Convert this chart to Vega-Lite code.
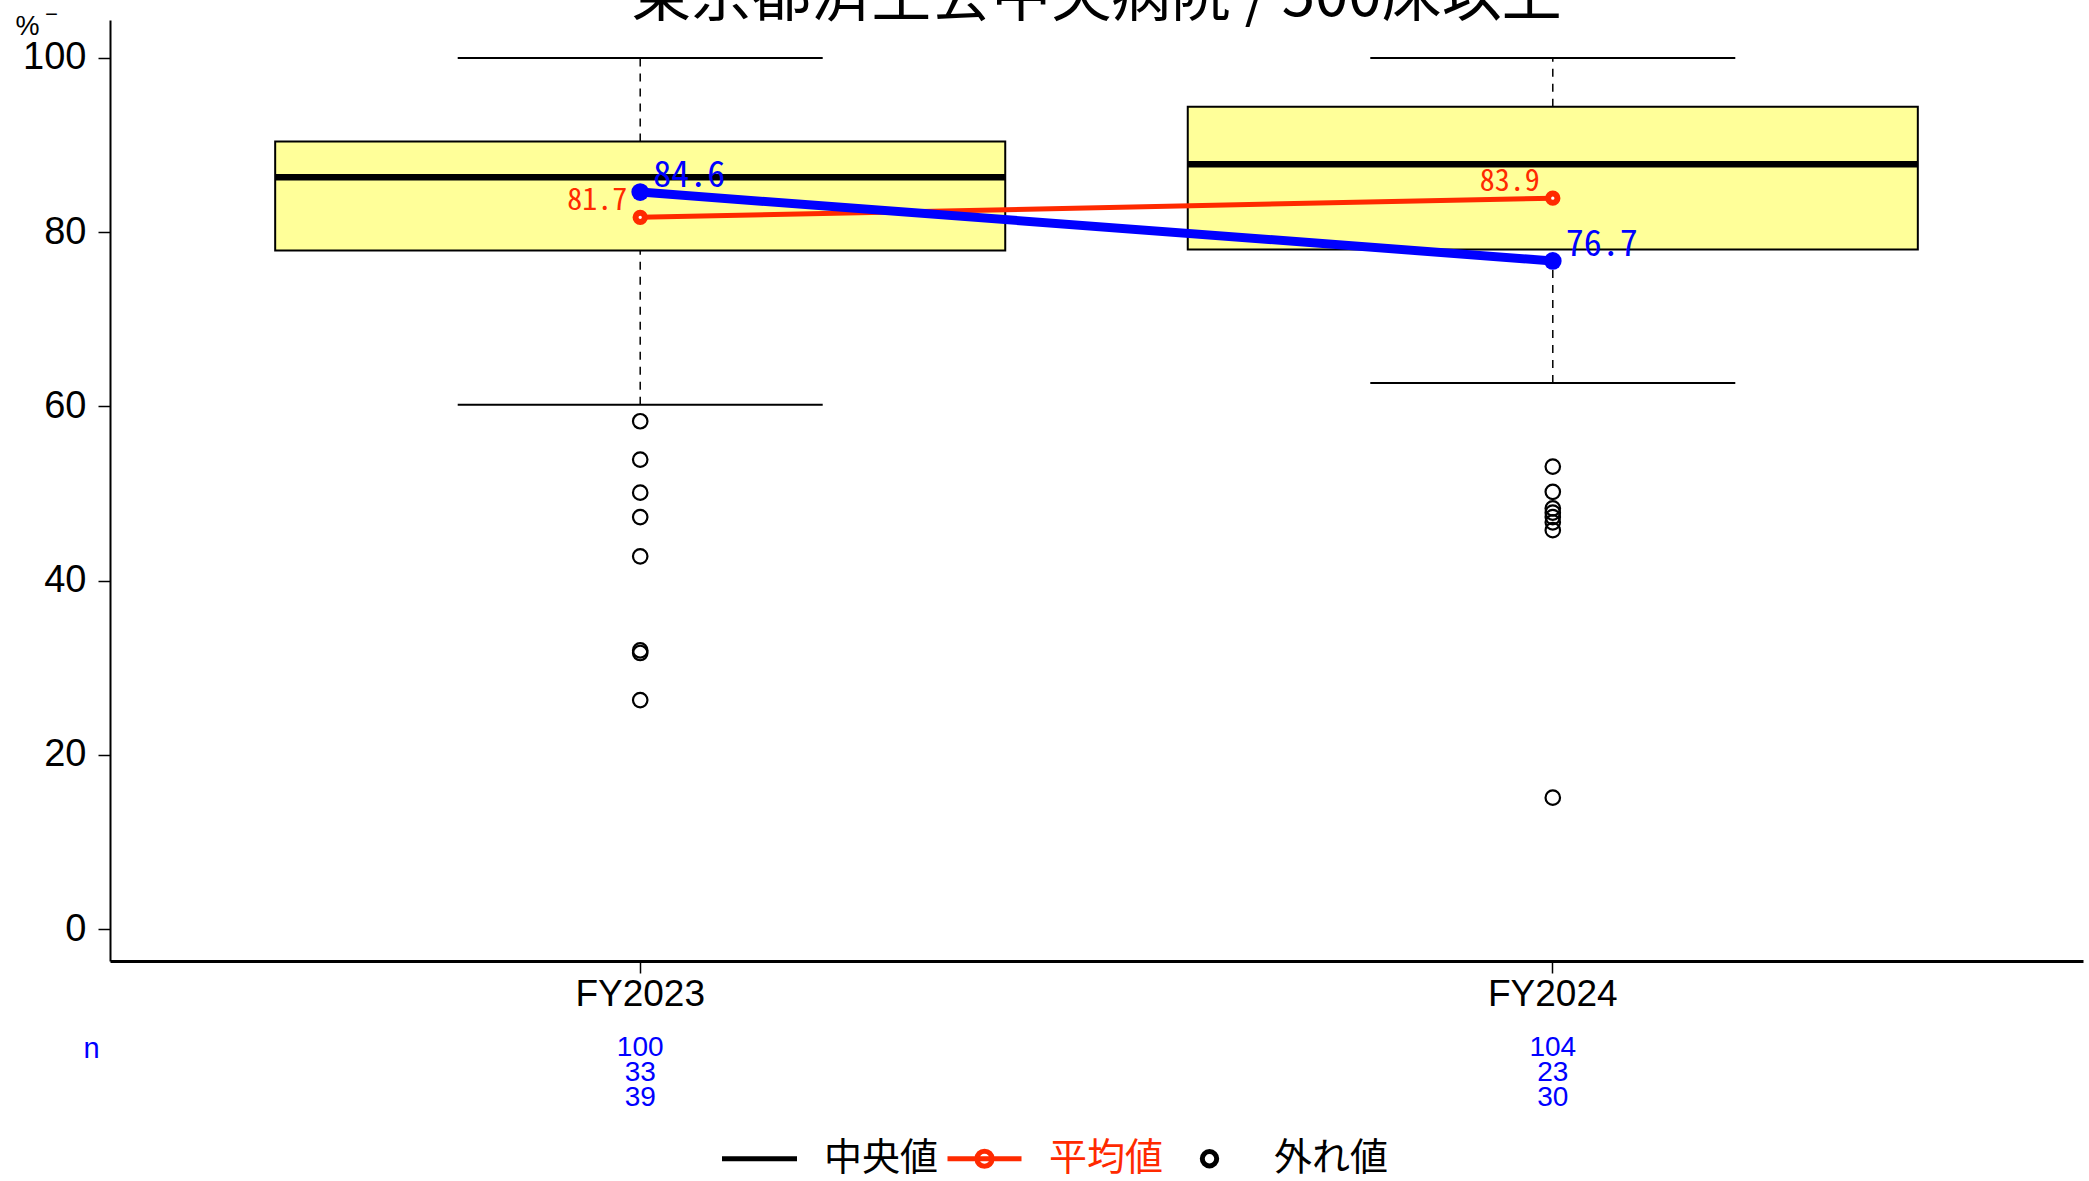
{
  "$schema": "https://vega.github.io/schema/vega-lite/v6.json",
  "autosize": "none",
  "width": 1973,
  "height": 941,
  "padding": {"left": 110, "top": 20, "right": 6, "bottom": 220},
  "background": "white",
  "config": {
    "view": {"stroke": null},
    "axisY": {
      "titleFont": "Liberation Sans",
      "titleFontSize": 27,
      "titleFontWeight": "normal",
      "titleColor": "black",
      "titleAngle": 0,
      "titleAlign": "left",
      "titleBaseline": "middle",
      "titleX": -95,
      "titleY": 6,
      "tickCount": 6,
      "labelFont": "Liberation Sans",
      "labelFontSize": 38,
      "labelColor": "black",
      "labelPadding": 12,
      "tickSize": 12,
      "tickWidth": 1.5,
      "tickColor": "black",
      "domainColor": "black",
      "domainWidth": 2,
      "grid": false
    }
  },
  "title": {
    "text": "東京都済生会中央病院 / 500床以上",
    "font": "Noto Sans CJK JP",
    "fontSize": 60,
    "fontWeight": "normal",
    "color": "black",
    "anchor": "middle",
    "frame": "group",
    "baseline": "top",
    "offset": -17
  },
  "datasets": {
    "box": [
      {"FY": "FY2023", "lower": 60.2, "q1": 77.9, "median": 86.3, "q3": 90.4, "upper": 100},
      {"FY": "FY2024", "lower": 62.7, "q1": 78.0, "median": 87.8, "q3": 94.4, "upper": 100}
    ],
    "outliers": [
      {"FY": "FY2023", "value": 58.3},
      {"FY": "FY2023", "value": 53.9},
      {"FY": "FY2023", "value": 50.1},
      {"FY": "FY2023", "value": 47.3},
      {"FY": "FY2023", "value": 42.8},
      {"FY": "FY2023", "value": 32.0},
      {"FY": "FY2023", "value": 31.7},
      {"FY": "FY2023", "value": 26.3},
      {"FY": "FY2024", "value": 53.1},
      {"FY": "FY2024", "value": 50.2},
      {"FY": "FY2024", "value": 48.3},
      {"FY": "FY2024", "value": 47.8},
      {"FY": "FY2024", "value": 47.3},
      {"FY": "FY2024", "value": 46.7},
      {"FY": "FY2024", "value": 45.8},
      {"FY": "FY2024", "value": 15.1}
    ],
    "stats": [
      {"FY": "FY2023", "mean": 81.7, "hospital": 84.6, "n_all": 100, "n_2": 33, "n_3": 39},
      {"FY": "FY2024", "mean": 83.9, "hospital": 76.7, "n_all": 104, "n_2": 23, "n_3": 30}
    ],
    "legend": [
      {"kind": "中央値"},
      {"kind": "平均値"},
      {"kind": "外れ値"}
    ]
  },
  "encoding": {
    "x": {
      "field": "FY",
      "type": "nominal",
      "sort": ["FY2023", "FY2024"],
      "scale": {"type": "band", "paddingInner": 0.2, "paddingOuter": 0.181},
      "axis": {
        "title": "n",
        "titleColor": "#0000FF",
        "titleFont": "Liberation Sans",
        "titleFontSize": 29,
        "titleFontWeight": "normal",
        "titleAngle": 0,
        "titleAlign": "center",
        "titleBaseline": "middle",
        "titleX": -19,
        "titleY": 87,
        "labelFont": "Liberation Sans",
        "labelFontSize": 37,
        "labelColor": "black",
        "labelAngle": 0,
        "labelPadding": 3,
        "tickSize": 12,
        "tickWidth": 1.5,
        "tickColor": "black",
        "domainColor": "black",
        "domainWidth": 3,
        "grid": false
      }
    }
  },
  "layer": [
    {
      "data": {"name": "box"},
      "mark": {"type": "rule", "strokeDash": [8, 7], "strokeWidth": 1.5, "color": "black"},
      "encoding": {
        "y": {"field": "lower", "type": "quantitative", "title": "%  ‾"},
        "y2": {"field": "q1"}
      }
    },
    {
      "data": {"name": "box"},
      "mark": {"type": "rule", "strokeDash": [8, 7], "strokeWidth": 1.5, "color": "black"},
      "encoding": {
        "y": {"field": "q3", "type": "quantitative", "title": "%  ‾"},
        "y2": {"field": "upper"}
      }
    },
    {
      "data": {"name": "box"},
      "mark": {"type": "tick", "size": 365, "thickness": 2, "color": "black", "opacity": 1},
      "encoding": {"y": {"field": "lower", "type": "quantitative", "title": "%  ‾"}}
    },
    {
      "data": {"name": "box"},
      "mark": {"type": "tick", "size": 365, "thickness": 2, "color": "black", "opacity": 1},
      "encoding": {"y": {"field": "upper", "type": "quantitative", "title": "%  ‾"}}
    },
    {
      "data": {"name": "box"},
      "mark": {"type": "bar", "fill": "#FFFF99", "stroke": "black", "strokeWidth": 2},
      "encoding": {
        "y": {
          "field": "q1",
          "type": "quantitative",
          "title": "%  ‾",
          "scale": {"domain": [-3.65, 104.35], "nice": false, "zero": false}
        },
        "y2": {"field": "q3"}
      }
    },
    {
      "data": {"name": "box"},
      "mark": {"type": "tick", "size": 730, "thickness": 6.5, "color": "black", "opacity": 1},
      "encoding": {"y": {"field": "median", "type": "quantitative", "title": "%  ‾"}}
    },
    {
      "data": {"name": "outliers"},
      "mark": {"type": "point", "shape": "circle", "filled": false, "size": 210, "strokeWidth": 2.2, "color": "black", "opacity": 1},
      "encoding": {"y": {"field": "value", "type": "quantitative", "title": "%  ‾"}}
    },
    {
      "data": {"name": "stats"},
      "mark": {"type": "line", "color": "#FF2A00", "strokeWidth": 5},
      "encoding": {"y": {"field": "mean", "type": "quantitative", "title": "%  ‾"}}
    },
    {
      "data": {"name": "stats"},
      "mark": {"type": "point", "shape": "circle", "filled": true, "fill": "white", "stroke": "#FF2A00", "strokeWidth": 6, "size": 87, "opacity": 1},
      "encoding": {"y": {"field": "mean", "type": "quantitative", "title": "%  ‾"}}
    },
    {
      "data": {"name": "stats"},
      "mark": {"type": "line", "color": "#0000FF", "strokeWidth": 9},
      "encoding": {"y": {"field": "hospital", "type": "quantitative", "title": "%  ‾"}}
    },
    {
      "data": {"name": "stats"},
      "mark": {"type": "point", "shape": "circle", "filled": true, "color": "#0000FF", "size": 314, "opacity": 1},
      "encoding": {"y": {"field": "hospital", "type": "quantitative", "title": "%  ‾"}}
    },
    {
      "data": {"name": "stats"},
      "mark": {"type": "text", "font": "Noto Sans Mono CJK JP", "fontSize": 30, "color": "#FF2A00", "align": "right", "baseline": "alphabetic", "dx": -13, "dy": -7},
      "encoding": {
        "y": {"field": "mean", "type": "quantitative", "title": "%  ‾"},
        "text": {"field": "mean", "type": "quantitative", "format": ".1f"}
      }
    },
    {
      "data": {"name": "stats"},
      "mark": {"type": "text", "font": "Noto Sans Mono CJK JP", "fontSize": 36, "color": "#0000FF", "align": "left", "baseline": "alphabetic", "dx": 13, "dy": -5},
      "encoding": {
        "y": {"field": "hospital", "type": "quantitative", "title": "%  ‾"},
        "text": {"field": "hospital", "type": "quantitative", "format": ".1f"}
      }
    },
    {
      "data": {"name": "stats"},
      "mark": {"type": "text", "font": "Liberation Sans", "fontSize": 28, "color": "#0000FF", "align": "center", "baseline": "middle", "dy": 87},
      "encoding": {
        "y": {"datum": -3.65, "type": "quantitative", "title": "%  ‾"},
        "text": {"field": "n_all", "type": "quantitative"}
      }
    },
    {
      "data": {"name": "stats"},
      "mark": {"type": "text", "font": "Liberation Sans", "fontSize": 28, "color": "#0000FF", "align": "center", "baseline": "middle", "dy": 112},
      "encoding": {
        "y": {"datum": -3.65, "type": "quantitative", "title": "%  ‾"},
        "text": {"field": "n_2", "type": "quantitative"}
      }
    },
    {
      "data": {"name": "stats"},
      "mark": {"type": "text", "font": "Liberation Sans", "fontSize": 28, "color": "#0000FF", "align": "center", "baseline": "middle", "dy": 137},
      "encoding": {
        "y": {"datum": -3.65, "type": "quantitative", "title": "%  ‾"},
        "text": {"field": "n_3", "type": "quantitative"}
      }
    },
    {
      "data": {"name": "legend"},
      "mark": {"type": "point", "opacity": 0, "filled": false},
      "encoding": {
        "x": {"datum": "FY2023", "type": "nominal"},
        "y": {"datum": 50, "type": "quantitative", "title": "%  ‾"},
        "color": {
          "field": "kind",
          "type": "nominal",
          "scale": {"domain": ["中央値", "平均値", "外れ値"], "range": ["black", "#FF2A00", "black"]},
          "legend": {
            "title": null,
            "orient": "none",
            "direction": "horizontal",
            "legendX": 627,
            "legendY": 1116,
            "symbolSize": 1600,
            "symbolStrokeWidth": 5,
            "symbolOpacity": 1,
            "symbolFillColor": "transparent",
            "labelFont": "Noto Sans CJK JP",
            "labelFontSize": 38,
            "labelOffset": 42,
            "labelColor": {"expr": "datum.label == '平均値' ? '#FF2A00' : 'black'"},
            "gridAlign": "all",
            "columnPadding": -2,
            "padding": 0
          }
        },
        "shape": {
          "field": "kind",
          "type": "nominal",
          "scale": {
            "domain": ["中央値", "平均値", "外れ値"],
            "range": [
              "M-1.875,0L1.875,0",
              "M-1.85,0L1.85,0M-0.38,0A0.38,0.38 0 1 1 0.38,0A0.38,0.38 0 1 1 -0.38,0",
              "M-0.36,0A0.36,0.36 0 1 1 0.36,0A0.36,0.36 0 1 1 -0.36,0"
            ]
          },
          "legend": {
            "title": null,
            "orient": "none",
            "direction": "horizontal",
            "legendX": 627,
            "legendY": 1116,
            "symbolSize": 1600,
            "symbolStrokeWidth": 5,
            "symbolOpacity": 1,
            "symbolFillColor": "transparent",
            "labelFont": "Noto Sans CJK JP",
            "labelFontSize": 38,
            "labelOffset": 42,
            "labelColor": {"expr": "datum.label == '平均値' ? '#FF2A00' : 'black'"},
            "gridAlign": "all",
            "columnPadding": -2,
            "padding": 0
          }
        }
      }
    }
  ]
}
